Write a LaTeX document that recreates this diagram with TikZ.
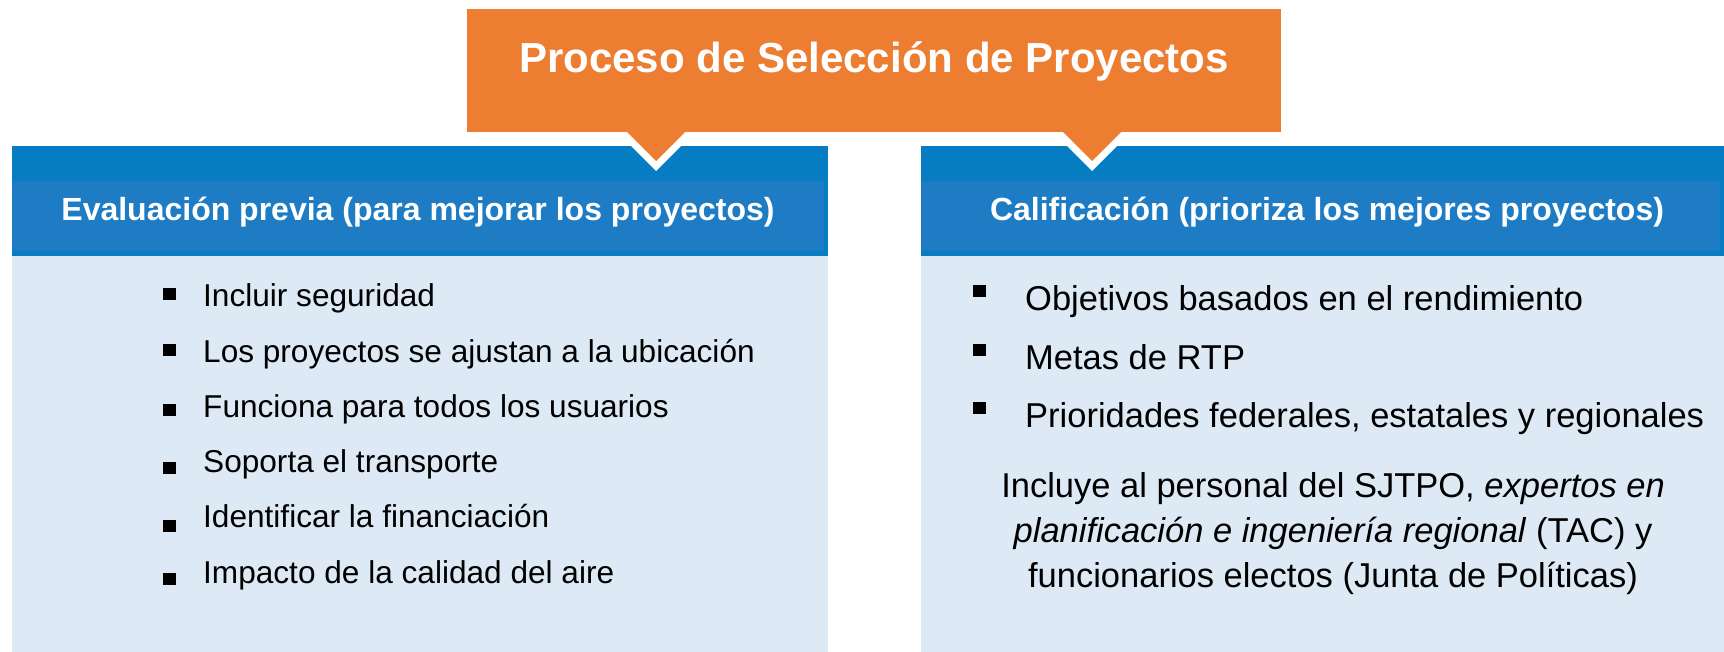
\documentclass[tikz,border=0pt]{standalone}
\usepackage{fontspec}
\setmainfont{Liberation Sans}

\definecolor{titleorange}{HTML}{ED7D31}
\definecolor{banddark}{HTML}{067DC3}
\definecolor{bandlight}{HTML}{1E7CC5}
\definecolor{bodyblue}{HTML}{DDEAF6}

\begin{document}
\begin{tikzpicture}[x=1pt,y=-1pt,
    titletext/.style={anchor=base,inner sep=0pt,text=white,font=\bfseries\fontsize{42}{50}\selectfont},
    headtext/.style={anchor=base,inner sep=0pt,text=white,font=\bfseries\fontsize{32}{38}\selectfont},
    leftitem/.style={anchor=base west,inner sep=0pt,font=\fontsize{31.6}{38}\selectfont},
    rightitem/.style={anchor=base west,inner sep=0pt,font=\fontsize{34.5}{41}\selectfont},
    paratext/.style={anchor=base,inner sep=0pt,font=\fontsize{34.5}{41}\selectfont},
    bullet/.style={fill=black,inner sep=0pt,minimum width=13pt,minimum height=12pt}]
        \useasboundingbox (0,0) rectangle (1724,652);

        % Draw the two blue panels
        \foreach \xl/\xr in {12/828,921/1724} {
            \fill[bodyblue] (\xl,256) rectangle (\xr,652);
            \fill[banddark] (\xl,146) rectangle (\xr,256);
            \fill[bandlight] (\xl,181) rectangle (\xr-4,251);
        }

        % Draw the notches below the title
        \foreach \xc in {656,1092} {
            \fill[white] (\xc-40,131) -- (\xc,171) -- (\xc+40,131) -- cycle;
            \fill[titleorange] (\xc-30,131) -- (\xc,161) -- (\xc+30,131) -- cycle;
        }

        % Draw the title box
        \fill[titleorange] (467,9) rectangle (1281,132);
        \node[titletext] (title) at (874,73) {Proceso de Selección de Proyectos};

        % Panel headings
        \node[headtext] (lefthead) at (418,221) {Evaluación previa (para mejorar los proyectos)};
        \node[headtext] (righthead) at (1327,221) {Calificación (prioriza los mejores proyectos)};

        % Left list
        \foreach \i/\txt/\bl in {1/Incluir seguridad/13,2/Los proyectos se ajustan a la ubicación/12,
                3/Funciona para todos los usuarios/7,4/Soporta el transporte/5,
                5/Identificar la financiación/2,6/Impacto de la calidad del aire/4} {
            \pgfmathsetmacro{\yb}{307+(\i-1)*55.2}
            \node[leftitem] (litem\i) at (203,\yb) {\txt};
            \node[bullet] (lbul\i) at (169,\yb-\bl) {};
        }

        % Right list
        \foreach \i/\txt/\yb in {1/Objetivos basados en el rendimiento/310,2/Metas de RTP/369,
                3/{Prioridades federales, estatales y regionales}/427} {
            \node[rightitem] (ritem\i) at (1025,\yb) {\txt};
            \node[bullet] (rbul\i) at (979,\yb-19) {};
        }

        % Note under the right list
        \node[paratext] (note1) at (1333,497) {Incluye al personal del SJTPO, \textit{expertos en}};
        \node[paratext] (note2) at (1333,542) {\textit{planificación e ingeniería regional} (TAC) y};
        \node[paratext] (note3) at (1333,587) {funcionarios electos (Junta de Políticas)};

\end{tikzpicture}
\end{document}
